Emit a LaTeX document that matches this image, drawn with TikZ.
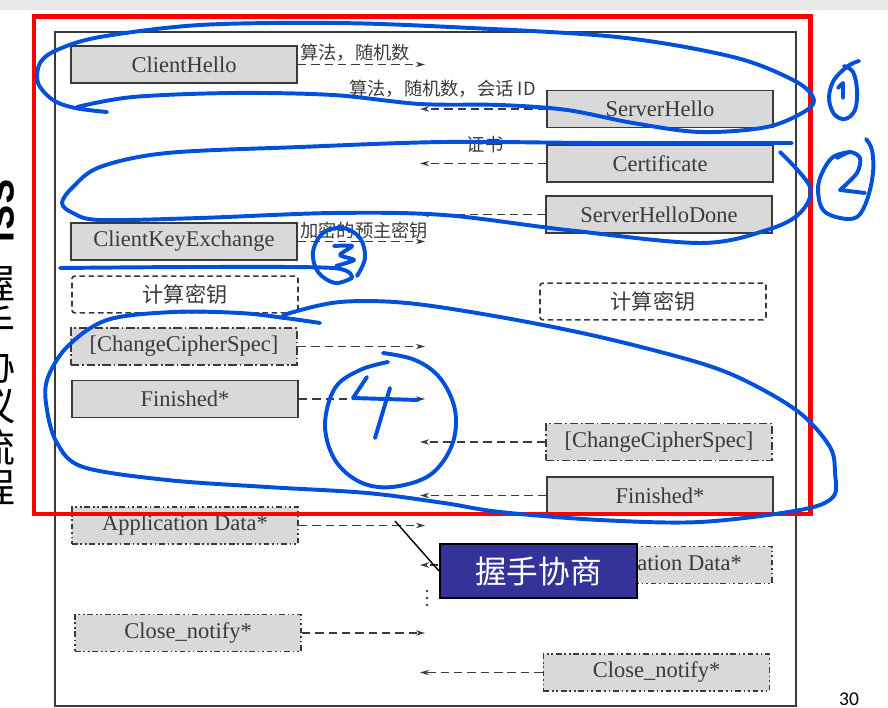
\documentclass[tikz,border=0pt]{standalone}
\usepackage{fontspec}
\setmainfont{Liberation Serif}
\newfontfamily\cjk{Noto Sans CJK SC}
\newfontfamily\ttlsans{Liberation Sans}
\newfontfamily\pgsans{Carlito}
\usetikzlibrary{arrows.meta}
\definecolor{boxfill}{HTML}{D9D9D9}
\definecolor{boxline}{HTML}{3A3A3A}
\definecolor{penblue}{HTML}{0050DC}
\definecolor{calloutblue}{HTML}{333399}

\begin{document}
\begin{tikzpicture}[x=0.025cm,y=-0.025cm,
  msg/.style={draw=boxline,fill=boxfill,line width=1.2pt,text=boxline,
    minimum width=5.65cm,minimum height=0.92cm,inner sep=0pt,
    font=\fontsize{16}{18}\selectfont},
  optmsg/.style={msg,dash pattern=on 6pt off 2pt on 1.2pt off 2pt},
  datamsg/.style={msg,dash pattern=on 4pt off 2pt on 1.2pt off 2pt on 1.2pt off 2pt},
  calcbox/.style={msg,fill=white,dash pattern=on 4pt off 2.5pt,rounded corners=2pt,
    font=\cjk\fontsize{15}{18}\selectfont},
  flow/.style={draw=boxline,line width=1.1pt,dash pattern=on 6pt off 3.5pt,
    -{Stealth[length=6.5pt,width=3.8pt]}},
  lbl/.style={inner sep=0pt,text=boxline,font=\cjk\fontsize{13}{15}\selectfont},
  penline/.style={draw=penblue,line width=2.8pt,line cap=round,line join=round}]
\useasboundingbox (0,0) rectangle (888,708);
\fill[gray!18] (0,0) rectangle (888,10);

% slide title, cut by the page edge
\node[rotate=-90,anchor=base west,inner sep=0pt,
  font=\ttlsans\bfseries\fontsize{28.4}{30}\selectfont] (ttlssl) at (-13.6,178) {SSL};
\foreach \ch [count=\i from 0] in {握,手,协,议,流,程}
  \node[inner sep=0pt,font=\cjk\fontsize{28.4}{30}\selectfont] (ttl\i) at (-5,283+41*\i) {\ch};

% frame of the figure
\draw[boxline,line width=1pt] (55,32) rectangle (796,706);

% messages
\node[msg] (ch) at (184,64.5) {ClientHello};
\node[msg] (sh) at (660,109) {ServerHello};
\node[msg] (cert) at (660,163.5) {Certificate};
\node[msg] (shd) at (659,214.5) {ServerHelloDone};
\node[msg] (cke) at (184,241.5) {ClientKeyExchange};
\node[calcbox] (calcl) at (185,294.5) {计算密钥};
\node[calcbox] (calcr) at (653,301.5) {计算密钥};
\node[optmsg] (ccsl) at (184,346.5) {[ChangeCipherSpec]};
\node[msg] (finl) at (185,399) {Finished*};
\node[optmsg] (ccsr) at (659,442) {[ChangeCipherSpec]};
\node[msg] (finr) at (660,495.5) {Finished*};
\node[datamsg] (appl) at (185,525.5) {Application Data*};
\node[datamsg] (appr) at (659,565) {Application Data*};
\node[datamsg] (closel) at (188,633) {Close\_notify*};
\node[datamsg] (closer) at (656.5,672.5) {Close\_notify*};

% arrows
\coordinate (tocli) at (420,0);
\coordinate (tosrv) at (425,0);
\foreach \n in {ch,cke,ccsl,finl,appl,closel}
  \draw[flow] (\n.east) -- (\n.east -| tosrv);
\foreach \n in {sh,cert,shd,ccsr,finr,appr,closer}
  \draw[flow] (\n.west) -- (\n.west -| tocli);

\node[lbl,anchor=west] (alg1) at (300,52.5) {算法，随机数};
\node[lbl,anchor=east] (alg2) at (536,88.5) {算法，随机数，会话 ID};
\node[lbl] (certl) at (485,145) {证书};
\node[lbl,anchor=west] (pms) at (300,231) {加密的预主密钥};
\foreach \yy in {591,598,605}
  \fill[boxline] (427,\yy) circle (0.9pt);

% callout
\node[draw=black,line width=1.4pt,fill=calloutblue,text=white,minimum width=4.925cm,
  minimum height=1.35cm,inner sep=0pt,font=\cjk\fontsize{22.5}{24}\selectfont] (nego) at (538.5,571) {握手协商};
\coordinate (negotip) at (395,521);
\draw[line width=1pt] (negotip) -- (nego.west);

\node[inner sep=0pt,font=\pgsans\fontsize{13.9}{15}\selectfont] (pgno) at (849,699) {30};

% red marking
\draw[red,line width=3.55pt] (34,17) rectangle (810,514);

% pen strokes
\draw[penline] plot[smooth,tension=0.55] coordinates {(107,112) (75,108) (53,100) (38,83)
  (40,63) (57,50) (100,37) (200,25) (333,23) (450,27) (617,37) (733,57) (793,80) (813,97)
  (807,110) (767,127) (700,132) (633,123) (567,110) (500,105) (420,104) (333,95) (233,93)
  (133,97) (77,107)};
\draw[penline] plot[smooth,tension=0.6] coordinates {(859,61) (848,66) (834,80) (829,98)
  (834,114) (845,119) (855,110) (857,90) (853,72) (844,66)};
\draw[penline] (838,88) -- (843,83) -- (843,98);
\draw[penline] plot[smooth,tension=0.55] coordinates {(792,143) (600,143) (444,142) (300,147)
  (167,153) (100,167) (73,187) (62,203) (73,213) (100,220) (200,218) (333,213) (444,215)
  (567,230) (700,243) (767,230) (800,213) (810,187) (780,152)};
\draw[penline] plot[smooth,tension=0.6] coordinates {(866,139) (872,150) (873,173) (867,200)
  (857,217) (840,218) (823,210) (818,190) (822,173) (833,157) (850,152)};
\draw[penline] plot[smooth,tension=0.5] coordinates {(837,158) (850,152) (860,158) (857,173)
  (840,190)} -- (865,193);
\draw[penline] plot[smooth,tension=0.5] coordinates {(60,268) (200,267) (333,268) (352,278)};
\draw[penline] plot[smooth,tension=0.6] coordinates {(352,278) (335,283) (318,272) (313,252)
  (323,233) (343,228) (360,238) (365,258) (357,276)};
\draw[penline] plot[smooth,tension=0.4] coordinates {(334,246) (352,246) (340,255) (354,260)
  (336,266)};
\draw[penline] plot[smooth,tension=0.55] coordinates {(320,323) (285,318) (240,313) (173,312)
  (107,320) (67,347) (47,380) (47,410) (57,443) (83,467) (167,480) (267,487) (367,493)
  (444,503) (500,512) (600,520) (700,522) (800,510) (833,497) (835,473) (830,447) (800,413)
  (750,383) (700,363) (600,337) (500,317) (407,303) (340,302) (290,313) (282,318)};
\draw[penline] plot[smooth,tension=0.6] coordinates {(388,362) (360,370) (335,388) (325,425)
  (335,460) (360,482) (392,487) (430,475) (452,445) (455,410) (440,378) (415,360) (383,353)};
\draw[penline] (367,377) -- (353,398) -- (418,400);
\draw[penline] (390,388) -- (375,438);
\end{tikzpicture}
\end{document}
